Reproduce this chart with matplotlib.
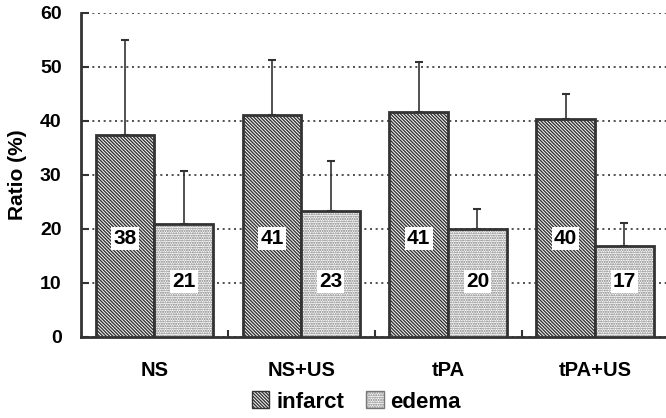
import numpy as np
import matplotlib.pyplot as plt
from matplotlib.patches import Patch

plt.rcParams['font.family'] = ['Liberation Sans', 'DejaVu Sans']
plt.rcParams['font.weight'] = 'bold'
plt.rcParams['hatch.linewidth'] = 1.0

# Ratio (%) per treatment group, with upper SD
groups = ['NS', 'NS+US', 'tPA', 'tPA+US']
infarct = [37.4, 41.1, 41.7, 40.3]
infarct_sd = [17.6, 10.2, 9.2, 4.7]
edema = [20.9, 23.3, 19.9, 16.8]
edema_sd = [9.8, 9.2, 3.7, 4.3]
infarct_labels = ['38', '41', '41', '40']
edema_labels = ['21', '23', '20', '17']

fig = plt.figure(figsize=(6.66, 4.18), dpi=100)
ax = fig.add_axes([0.1216, 0.194, 0.882, 0.775])

x = np.arange(len(groups))
w = 0.4
edge = '#333333'
dots = '#777777'
h_inf = '\\' * 10
h_ede = '.' * 7

ax.bar(x - w / 2, infarct, w, color='white', edgecolor=edge, linewidth=2,
       hatch=h_inf, zorder=3)
# edema: lighter dotted fill, then a dark outline on top
ax.bar(x + w / 2, edema, w, color='white', edgecolor=dots, linewidth=0,
       hatch=h_ede, zorder=3)
ax.bar(x + w / 2, edema, w, fill=False, edgecolor=edge, linewidth=2, zorder=3)

# upper-only error bars
ax.errorbar(x - w / 2, infarct, yerr=[np.zeros(4), infarct_sd], fmt='none',
            ecolor=edge, elinewidth=1.2, capsize=3, capthick=1.5, zorder=2)
ax.errorbar(x + w / 2, edema, yerr=[np.zeros(4), edema_sd], fmt='none',
            ecolor=edge, elinewidth=1.2, capsize=3, capthick=1.5, zorder=2)

box = dict(facecolor='white', edgecolor='none', pad=1.5)
for xi, lab in zip(x - w / 2, infarct_labels):
    ax.text(xi, 18.3, lab, ha='center', va='center', fontsize=15,
            fontweight='bold', bbox=box, zorder=4)
for xi, lab in zip(x + w / 2, edema_labels):
    ax.text(xi, 10.3, lab, ha='center', va='center', fontsize=15,
            fontweight='bold', bbox=box, zorder=4)

ax.set_ylim(0, 60)
ax.set_xlim(-0.5, 3.5)
ax.set_yticks(range(0, 61, 10))
ax.yaxis.grid(True, linestyle=(0, (1.2, 2.2)), color='#333333', linewidth=1.2)
ax.set_axisbelow(True)

ax.set_xticks(x)
ax.set_xticklabels(groups)
ax.set_xticks([0.5, 1.5, 2.5], minor=True)
ax.tick_params(axis='x', which='major', length=0, pad=17, labelsize=14.5)
ax.tick_params(axis='x', which='minor', direction='in', length=5, width=1.5,
               color=edge)
ax.tick_params(axis='y', direction='in', length=6, width=1.5, color=edge,
               labelsize=14, pad=14)

for s in ['top', 'right']:
    ax.spines[s].set_visible(False)
for s in ['left', 'bottom']:
    ax.spines[s].set_linewidth(2)
    ax.spines[s].set_color(edge)

ax.set_ylabel('Ratio (%)', fontsize=15, fontweight='bold', labelpad=9)

handles = [Patch(facecolor='white', edgecolor=edge, hatch=h_inf, label='infarct'),
           Patch(facecolor='white', edgecolor=dots, hatch=h_ede, label='edema')]
fig.legend(handles=handles, loc='lower center', bbox_to_anchor=(0.535, -0.035),
           ncol=2, frameon=False, fontsize=16, handlelength=0.8,
           handleheight=0.8, handletextpad=0.3, columnspacing=1.0)

fig.savefig('out.png', dpi=100)
